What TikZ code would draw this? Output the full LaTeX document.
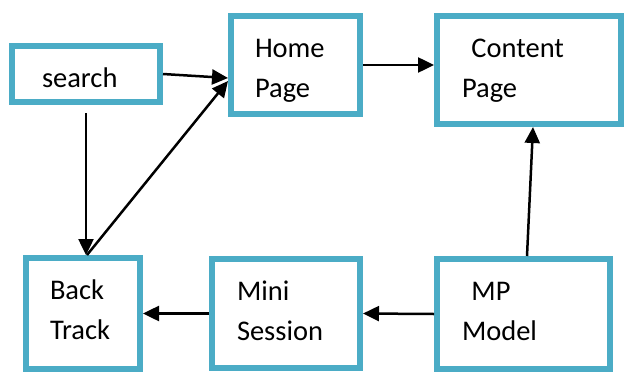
\documentclass[tikz,border=0pt]{standalone}
\usepackage{fontspec}
\setmainfont{Carlito}
\usetikzlibrary{arrows.meta}
\definecolor{cajaazul}{RGB}{75,172,198}

\begin{document}
\begin{tikzpicture}[
    caja/.style={draw=cajaazul,line width=0.12cm,align=left,inner ysep=0pt,inner xsep=0.48cm,
        text height=0.82cm,font=\fontsize{16.2}{22.8}\selectfont},
    flecha/.style={line width=0.05cm,-{Triangle[length=0.32cm,width=0.3cm]}}
]
\useasboundingbox (0,0) rectangle (12.5,7.44);
    %Cajas
    \node[caja,text width=1.76cm,inner xsep=0.6cm,text depth=0.30cm] (search) at (1.72,5.96) {search};
    \node[caja,text width=1.62cm,text depth=1.14cm] (home) at (5.91,6.14) {Home\\Page};
    \node[caja,text width=2.68cm,inner xsep=0.5cm,text depth=1.34cm] (content) at (10.58,6.04) {\ Content\\Page};
    \node[caja,text width=1.32cm,text depth=1.40cm] (back) at (1.66,1.17) {Back\\Track};
    \node[caja,text width=1.96cm,inner xsep=0.5cm,text depth=1.36cm] (mini) at (5.72,1.17) {Mini\\Session};
    \node[caja,text width=2.46cm,inner xsep=0.5cm,text depth=1.38cm] (mp) at (10.47,1.16) {\ MP\\Model};

    %Flechas
    \draw[flecha] (search.east) -- ([yshift=-0.26cm]home.west);
    \draw[flecha] ([yshift=-0.16cm]search.south) -- (search.south |- back.north);
    \draw[flecha] ([xshift=0.08cm]back.north) -- ([yshift=-0.32cm]home.west);
    \draw[flecha] (home.east) -- (home.east -| content.west);
    \draw[flecha] ([xshift=0.07cm]mp.north) -- ([xshift=0.08cm]content.south);
    \draw[flecha] (mp.west) -- (mini.east);
    \draw[flecha] (mini.west) -- (back.east);
\end{tikzpicture}
\end{document}
